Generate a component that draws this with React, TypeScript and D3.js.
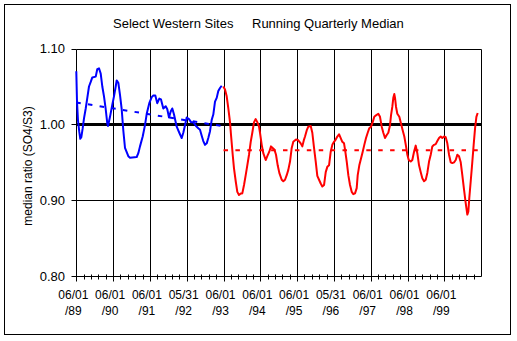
import React from "react";
import * as d3 from "d3";

// months since 06/01/1989, median ratio
const blueSeries: [number, number][] = [
  [0, 1.07], [0.23, 1.03], [0.55, 1.005], [0.98, 0.99], [1.3, 0.981], [1.63, 0.983], [2.09, 0.995],
  [2.51, 1.008], [3.07, 1.021], [3.59, 1.035], [4.14, 1.05], [4.7, 1.056], [5.22, 1.062],
  [6.33, 1.063], [6.85, 1.073], [7.4, 1.074], [7.96, 1.067], [8.48, 1.05], [9.03, 1.037], [9.59, 1.02], [10.11, 1.001], [10.34, 0.998],
  [10.99, 1.01], [11.74, 1.026], [12.29, 1.037], [12.85, 1.05], [13.17, 1.058], [13.7, 1.055], [14.25, 1.039], [14.8, 1.02], [15.33, 0.992], [15.88, 0.969],
  [16.96, 0.958], [17.51, 0.956], [19.7, 0.957], [20.22, 0.962], [20.77, 0.971], [21.65, 0.984], [22.4, 0.999], [22.96, 1.014], [23.8, 1.028], [24.59, 1.036],
  [25.11, 1.038], [25.76, 1.038], [26.41, 1.028], [27.07, 1.034], [27.62, 1.033], [28.37, 1.021], [29.15, 1.024], [29.67, 1.02], [30.23, 1.009], [30.78, 1.017],
  [31.3, 1.021], [31.86, 1.013], [32.74, 0.997], [33.59, 0.989], [34.37, 0.982], [34.89, 0.989], [35.45, 0.999], [36.0, 1.009], [36.75, 1.007], [37.4, 1.003],
  [38.15, 1.003], [39.03, 0.998], [39.78, 0.995], [40.34, 0.993], [40.89, 0.985], [41.41, 0.978], [41.97, 0.973], [42.52, 0.975], [43.04, 0.982], [43.6, 0.991],
  [44.15, 1.006], [44.67, 1.013], [45.23, 1.03], [45.78, 1.035], [46.3, 1.044], [46.86, 1.048], [47.41, 1.051],
];

const redSeries: [number, number][] = [
  [47.93, 1.05], [48.49, 1.046], [49.04, 1.037], [49.57, 1.021], [50.12, 1.003], [50.45, 0.986], [51.0, 0.96], [51.42, 0.942], [51.98, 0.925], [52.5, 0.911],
  [53.05, 0.907], [53.61, 0.909], [54.13, 0.909], [54.69, 0.92], [55.24, 0.933], [55.76, 0.946], [56.32, 0.96], [56.87, 0.977], [57.39, 0.989], [57.95, 1.003],
  [58.5, 1.007], [59.02, 1.003], [59.58, 0.997], [59.9, 0.989], [60.46, 0.973], [60.98, 0.962], [61.76, 0.953], [62.28, 0.958], [62.93, 0.964], [63.49, 0.971],
  [64.04, 0.969], [64.57, 0.967], [65.12, 0.96], [65.67, 0.946], [66.2, 0.936], [66.98, 0.927], [67.5, 0.925], [68.06, 0.927], [68.61, 0.933], [69.13, 0.94],
  [69.69, 0.951], [70.24, 0.969], [70.76, 0.977], [71.64, 0.98], [72.39, 0.979], [73.17, 0.975], [73.7, 0.971], [74.25, 0.98], [74.58, 0.984], [75.13, 0.992],
  [75.65, 0.997], [76.44, 0.998], [76.96, 0.989], [77.52, 0.969], [78.07, 0.951], [78.59, 0.932], [79.15, 0.927], [79.7, 0.922], [80.22, 0.918], [80.78, 0.92],
  [81.33, 0.937], [81.85, 0.944], [82.41, 0.946], [82.96, 0.964], [83.48, 0.973], [84.04, 0.977], [84.59, 0.98], [85.11, 0.984], [85.67, 0.987], [86.22, 0.982],
  [86.74, 0.977], [87.3, 0.975], [87.62, 0.967], [88.18, 0.951], [88.7, 0.933], [89.25, 0.92], [89.8, 0.911], [90.33, 0.908], [90.88, 0.909], [91.43, 0.916],
  [91.76, 0.933], [92.28, 0.946], [92.84, 0.955], [93.39, 0.964], [93.91, 0.973], [94.47, 0.982], [95.02, 0.989], [95.54, 0.995], [96.1, 0.997], [96.65, 1.003],
  [97.17, 1.01], [97.73, 1.012], [98.48, 1.014], [99.03, 1.01], [99.59, 0.997], [100.11, 0.989], [100.66, 0.982], [101.22, 0.986], [101.74, 0.989], [102.29, 0.999],
  [102.62, 1.012], [103.04, 1.023], [103.37, 1.035], [103.7, 1.04], [103.93, 1.035], [104.26, 1.023], [104.68, 1.014], [105.33, 1.01], [105.89, 1.001], [106.44, 0.992],
  [106.96, 0.984], [107.52, 0.971], [107.95, 0.96], [108.4, 0.953], [109.05, 0.951], [109.57, 0.953], [110.13, 0.964], [110.68, 0.972], [111.2, 0.962], [111.76, 0.946],
  [112.31, 0.937], [112.83, 0.929], [113.39, 0.925], [113.94, 0.927], [114.46, 0.936], [115.02, 0.951], [115.57, 0.96], [116.09, 0.971], [116.65, 0.973], [117.2, 0.974],
  [117.72, 0.978], [118.28, 0.982], [118.83, 0.984], [119.35, 0.982], [119.91, 0.984], [120.46, 0.983], [120.98, 0.975], [121.54, 0.96], [122.09, 0.95], [122.61, 0.949],
  [123.17, 0.95], [123.72, 0.953], [124.24, 0.96], [124.8, 0.958], [125.35, 0.95], [125.87, 0.933], [126.43, 0.914], [126.98, 0.896], [127.5, 0.881], [127.83, 0.885],
  [128.15, 0.903], [128.61, 0.925], [129.04, 0.946], [129.57, 0.973], [130.03, 0.995], [130.46, 1.01], [130.88, 1.015],
];

const blueTrend: [number, number][] = [[0, 1.029], [48, 0.9975]];
const redMedian: [number, number][] = [[48, 0.966], [130.9, 0.966]];
const referenceLevel = 1.0;

const xDomainMonths = [0, 131.8];
const majorTickMonths = d3.range(0, 121, 12);
const tickLine1 = ["06/01", "06/01", "06/01", "05/31", "06/01", "06/01", "06/01", "05/31", "06/01", "06/01", "06/01"];
const tickLine2 = ["/89", "/90", "/91", "/92", "/93", "/94", "/95", "/96", "/97", "/98", "/99"];
const yTicks = [0.8, 0.9, 1.0, 1.1];
const yGrid = [0.9, 1.1];

const FONT = "'Liberation Sans', Arial, sans-serif";

export default function App() {
  const x = d3.scaleLinear().domain(xDomainMonths).range([76.3, 480.5]);
  const y = d3.scaleLinear().domain([0.8, 1.1]).range([276, 48.6]);
  const line = d3.line<[number, number]>().x((d) => x(d[0])).y((d) => y(d[1]));
  const crisp = (v: number) => Math.round(v) + 0.5;

  const minorTicks: number[] = [];
  for (let m = 0; m <= xDomainMonths[1]; m += 2.4) {
    if (Math.abs(m / 12 - Math.round(m / 12)) > 0.01) minorTicks.push(m);
  }

  const left = crisp(x(0));
  const right = crisp(x(xDomainMonths[1]));
  const bottom = crisp(y(0.8));
  const top = crisp(y(1.1));

  return (
    <svg
      width={517}
      height={341}
      style={{ position: "absolute", left: 0, top: 0, background: "#fff" }}
      fontFamily={FONT}
    >
      <rect x={0} y={0} width={517} height={341} fill="#fff" />
      <rect x={4.5} y={4.5} width={506} height={330} fill="none" stroke="#000" strokeWidth={1} />

      {/* title */}
      <text x={113} y={28} fontSize={13} fill="#000">Select Western Sites</text>
      <text x={252} y={28} fontSize={13} fill="#000">Running Quarterly Median</text>

      {/* gridlines */}
      {yGrid.map((v) => (
        <line key={"hg" + v} x1={left} x2={right} y1={crisp(y(v))} y2={crisp(y(v))} stroke="#000" strokeWidth={1} />
      ))}
      {majorTickMonths.slice(1).map((m) => (
        <line key={"vg" + m} x1={crisp(x(m))} x2={crisp(x(m))} y1={top} y2={bottom + 5} stroke="#000" strokeWidth={1} />
      ))}
      <line x1={right} x2={right} y1={top} y2={bottom} stroke="#000" strokeWidth={1} />

      {/* axes */}
      <line x1={left} x2={left} y1={top} y2={bottom + 5} stroke="#000" strokeWidth={1} />
      <line x1={left} x2={right} y1={bottom} y2={bottom} stroke="#000" strokeWidth={1} />
      {minorTicks.map((m) => (
        <line key={"mt" + m} x1={crisp(x(m))} x2={crisp(x(m))} y1={bottom - 2} y2={bottom + 3} stroke="#000" strokeWidth={1} />
      ))}
      {yTicks.map((v) => (
        <g key={"yt" + v}>
          <line x1={left - 5} x2={left} y1={crisp(y(v))} y2={crisp(y(v))} stroke="#000" strokeWidth={1} />
          <text x={65} y={y(v)} dy="0.36em" textAnchor="end" fontSize={13} fill="#000">
            {d3.format(".2f")(v)}
          </text>
        </g>
      ))}
      {majorTickMonths.map((m, i) => (
        <g key={"xl" + m}>
          <text x={x(m) - 3} y={299} textAnchor="middle" fontSize={12} fill="#000">
            {tickLine1[i]}
          </text>
          <text x={x(m) - 3} y={315} textAnchor="middle" fontSize={12} fill="#000">
            {tickLine2[i]}
          </text>
        </g>
      ))}

      {/* y title */}
      <text transform="translate(32,166) rotate(-90)" textAnchor="middle" fontSize={12} fill="#000">
        median ratio (SO4/S3)
      </text>

      {/* reference line */}
      <line x1={left} x2={right} y1={y(referenceLevel)} y2={y(referenceLevel)} stroke="#000" strokeWidth={3} />

      {/* series */}
      <path d={line(blueTrend) || ""} fill="none" stroke="#0000ff" strokeWidth={2} strokeDasharray="4.5 7.3" />
      <path d={line(redMedian) || ""} fill="none" stroke="#ff0000" strokeWidth={2} strokeDasharray="4.5 7.4" />
      <path d={line(blueSeries) || ""} fill="none" stroke="#0000ff" strokeWidth={2} strokeLinejoin="round" />
      <path d={line(redSeries) || ""} fill="none" stroke="#ff0000" strokeWidth={2} strokeLinejoin="round" />
    </svg>
  );
}
